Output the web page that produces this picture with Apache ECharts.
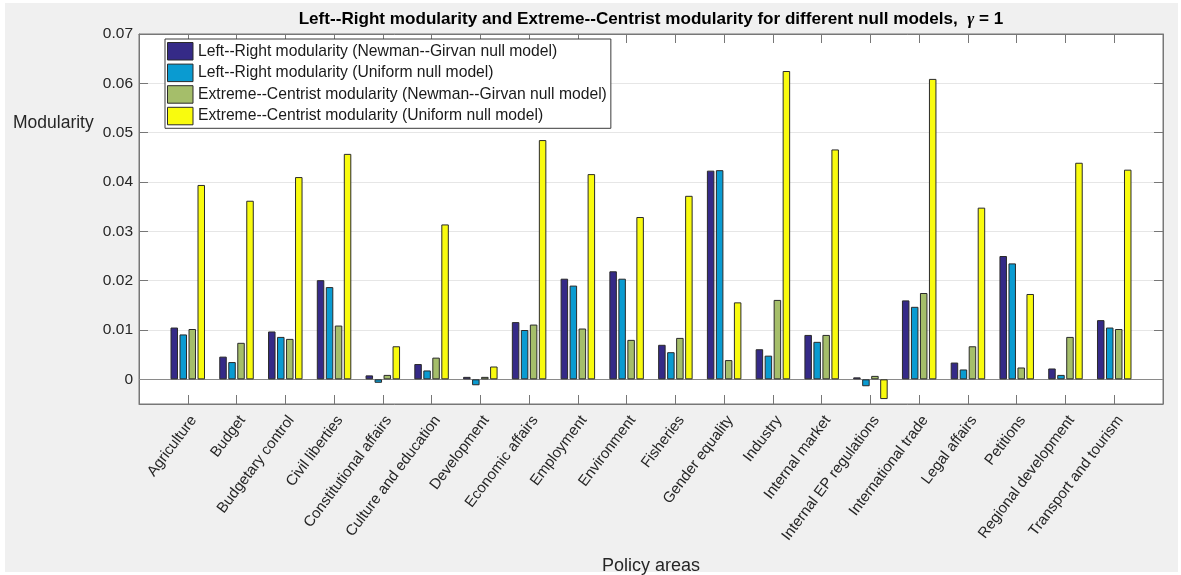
<!DOCTYPE html>
<html>
<head>
<meta charset="utf-8">
<script src="https://cdn.jsdelivr.net/npm/echarts@6/dist/echarts.min.js"></script>
<style>
  html, body { margin: 0; padding: 0; background: #ffffff; width: 1181px; height: 575px; overflow: hidden; }
  #fig { position: absolute; left: 5px; top: 3px; right: 3px; bottom: 3px; background: #f0f0f0; }
  #chart { position: absolute; left: 0; top: 0; width: 1181px; height: 575px; }
</style>
</head>
<body>
<div id="fig"></div>
<div id="chart"></div>
<script>
// Policy areas on the horizontal axis
const policyAreas = [
  'Agriculture', 'Budget', 'Budgetary control', 'Civil liberties',
  'Constitutional affairs', 'Culture and education', 'Development',
  'Economic affairs', 'Employment', 'Environment', 'Fisheries',
  'Gender equality', 'Industry', 'Internal market', 'Internal EP regulations',
  'International trade', 'Legal affairs', 'Petitions',
  'Regional development', 'Transport and tourism'
];

// Left--Right modularity, Newman--Girvan null model
const lrNewmanGirvan = [
  0.0105, 0.0046, 0.0097, 0.0201, 0.0008, 0.0031, 0.0005, 0.0116, 0.0204, 0.0219,
  0.0070, 0.0423, 0.0061, 0.0090, 0.0004, 0.0160, 0.0034, 0.0250, 0.0022, 0.0120
];
// Left--Right modularity, uniform null model
const lrUniform = [
  0.0091, 0.0035, 0.0086, 0.0187, -0.0007, 0.0018, -0.0012, 0.0100, 0.0190, 0.0204,
  0.0055, 0.0424, 0.0048, 0.0076, -0.0014, 0.0147, 0.0020, 0.0235, 0.0009, 0.0105
];
// Extreme--Centrist modularity, Newman--Girvan null model
const ecNewmanGirvan = [
  0.0102, 0.0074, 0.0082, 0.0109, 0.0009, 0.0044, 0.0005, 0.0111, 0.0103, 0.0080,
  0.0084, 0.0039, 0.0161, 0.0090, 0.0007, 0.0175, 0.0067, 0.0024, 0.0086, 0.0102
];
// Extreme--Centrist modularity, uniform null model
const ecUniform = [
  0.0394, 0.0362, 0.0410, 0.0457, 0.0067, 0.0314, 0.0026, 0.0485, 0.0416, 0.0329,
  0.0372, 0.0156, 0.0625, 0.0466, -0.0040, 0.0609, 0.0348, 0.0173, 0.0439, 0.0425
];

const seriesNames = [
  'Left--Right modularity (Newman--Girvan null model)',
  'Left--Right modularity (Uniform null model)',
  'Extreme--Centrist modularity (Newman--Girvan null model)',
  'Extreme--Centrist modularity (Uniform null model)'
];
const seriesValues = [lrNewmanGirvan, lrUniform, ecNewmanGirvan, ecUniform];
const seriesColors = ['#352a87', '#0a9bd1', '#a5be6a', '#f9fb0e'];

// The x range runs from 0 to n+1, so an empty slot pads each end of the axis
const axisCategories = [''].concat(policyAreas, ['']);
const pad = (arr) => [null].concat(arr, [null]);

const AXIS_COLOR = '#777777';
const TEXT_COLOR = '#262626';
const FONT = 'Liberation Sans, Arial, Helvetica, sans-serif';

const chart = echarts.init(document.getElementById('chart'), null, { renderer: 'canvas' });

const series = seriesNames.map((name, i) => ({
  name: name,
  type: 'bar',
  data: pad(seriesValues[i]),
  barWidth: 7.5,
  barGap: '20%',
  itemStyle: { color: seriesColors[i], borderColor: '#2a2a2a', borderWidth: 1 },
  emphasis: { disabled: true },
  z: 3
}));
// Bar baseline at zero
series[0].markLine = {
  silent: true,
  symbol: 'none',
  label: { show: false },
  lineStyle: { color: '#8a8a8a', type: 'solid', width: 1 },
  data: [{ yAxis: 0 }],
  z: 2
};

const yRange = { min: -0.005, max: 0.07, splitNumber: 7 };

const boxAxisLine = { show: true, onZero: false, lineStyle: { color: AXIS_COLOR } };
const innerTick = { show: true, inside: true, length: 9, lineStyle: { color: AXIS_COLOR } };

chart.setOption({
  animation: false,
  backgroundColor: 'transparent',
  textStyle: { fontFamily: FONT },
  title: [
    {
      text: '{b|Left--Right modularity and Extreme--Centrist modularity for different null models,  }{g|γ}{b| = 1}',
      left: 646,
      top: 6,
      textAlign: 'center',
      textStyle: {
        rich: {
          b: { fontFamily: FONT, fontWeight: 'bold', fontSize: 17.1, color: '#000000' },
          g: { fontFamily: 'Liberation Serif, DejaVu Serif, serif', fontStyle: 'italic', fontSize: 17, color: '#000000' }
        }
      }
    },
    {
      text: 'Modularity',
      left: 8,
      top: 109,
      textStyle: { fontFamily: FONT, fontWeight: 'normal', fontSize: 17.5, color: TEXT_COLOR }
    },
    {
      text: 'Policy areas',
      left: 646,
      top: 552,
      textAlign: 'center',
      textStyle: { fontFamily: FONT, fontWeight: 'normal', fontSize: 18, color: TEXT_COLOR }
    }
  ],
  legend: {
    orient: 'vertical',
    left: 165,
    top: 39,
    padding: [3, 4, 3, 2],
    itemWidth: 25.5,
    itemHeight: 17.5,
    itemGap: 3.1,
    icon: 'rect',
    backgroundColor: '#ffffff',
    borderColor: '#3a3a3a',
    borderWidth: 1,
    borderRadius: 0,
    selectedMode: false,
    itemStyle: { borderColor: '#2a2a2a', borderWidth: 1 },
    textStyle: { fontFamily: FONT, fontSize: 15.7, color: '#1a1a1a' },
    data: seriesNames
  },
  grid: {
    left: 139,
    top: 34,
    width: 1024,
    height: 370,
    show: true,
    backgroundColor: '#ffffff',
    borderColor: AXIS_COLOR,
    borderWidth: 1,
    containLabel: false
  },
  xAxis: [
    {
      type: 'category',
      position: 'bottom',
      data: axisCategories,
      boundaryGap: false,
      axisLine: boxAxisLine,
      axisTick: Object.assign({ interval: 0 }, innerTick),
      axisLabel: {
        interval: 0,
        rotate: 53,
        margin: 9,
        align: 'right',
        verticalAlign: 'top',
        fontFamily: FONT,
        fontSize: 15,
        color: TEXT_COLOR
      },
      splitLine: { show: false }
    },
    {
      type: 'category',
      position: 'top',
      data: axisCategories,
      boundaryGap: false,
      axisLine: boxAxisLine,
      axisTick: Object.assign({ interval: 0 }, innerTick),
      axisLabel: { show: false },
      splitLine: { show: false }
    }
  ],
  yAxis: [
    {
      type: 'value',
      position: 'left',
      min: yRange.min,
      max: yRange.max,
      splitNumber: yRange.splitNumber,
      axisLine: boxAxisLine,
      axisTick: innerTick,
      axisLabel: {
        showMinLabel: false,
        margin: 6,
        fontFamily: FONT,
        fontSize: 15.5,
        color: TEXT_COLOR
      },
      splitLine: { show: true, lineStyle: { color: '#e6e6e6', width: 1 } }
    },
    {
      type: 'value',
      position: 'right',
      min: yRange.min,
      max: yRange.max,
      splitNumber: yRange.splitNumber,
      axisLine: boxAxisLine,
      axisTick: innerTick,
      axisLabel: { show: false },
      splitLine: { show: false }
    }
  ],
  series: series
});
</script>
</body>
</html>
